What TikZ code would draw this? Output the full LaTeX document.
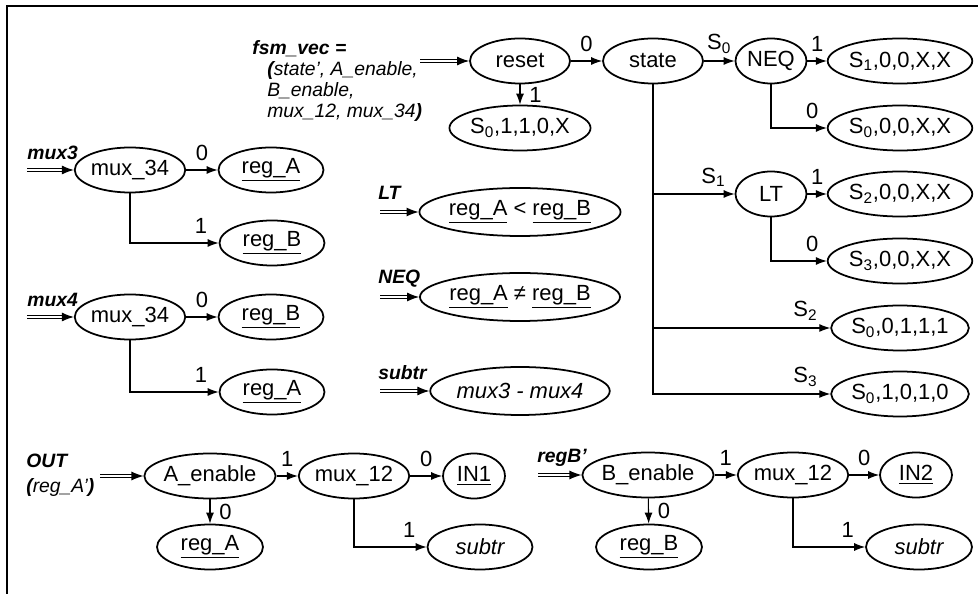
\documentclass[tikz,border=0pt]{standalone}
\usepackage{fontspec}
\setmainfont{Liberation Sans}
\usetikzlibrary{shapes.geometric, arrows.meta, positioning}
\newcommand{\Sx}[1]{S\textsubscript{#1}}
\tikzset{every node/.append style={align=center}}
\tikzset{
  st/.style={ellipse, draw, line width=1pt, minimum height=9mm, inner sep=0pt,
    font=\fontsize{12.5}{14}\selectfont},
  big/.style={st, minimum width=35mm, minimum height=9.6mm},
  arrow/.style={-{Latex[length=2.2mm,width=1.6mm]}, line width=0.6pt},
  dbl/.style={double, double distance=1.4pt, line width=0.6pt, -{Latex[length=2.4mm,width=1.8mm]}},
  sig/.style={font=\fontsize{11}{12}\selectfont\bfseries\itshape, inner sep=0pt, align=left},
  lbl/.style={font=\fontsize{12.5}{14}\selectfont, inner sep=3pt}
}
\begin{document}
\begin{tikzpicture}[x=0.02cm, y=-0.02cm]
  \useasboundingbox (0,0) rectangle (978,594);
  \draw[line width=1.3pt] (7,594) -- (7,6) -- (978,6);

  % fsm_vec tree
  \node[sig, anchor=north west] (fsmvec) at (252,40) {fsm\_vec =\\
    \hspace*{3mm}(\textmd{state’, A\_enable,}\\
    \hspace*{3mm}\textmd{B\_enable,}\\
    \hspace*{3mm}\textmd{mux\_12, mux\_34})};
  \coordinate (fsmin) at (420,61);
  \node[st, minimum width=20mm] (reset) at (520,61) {reset};
  \node[st, minimum width=20mm] (state) at (653,61) {state};
  \node[st, minimum width=14.2mm] (neq) at (771,61) {NEQ};
  \node[st, minimum width=26.6mm] (s1a) at (900,61) {\Sx{1},0,0,X,X};
  \node[st, minimum width=26.6mm] (s0a) at (900,128) {\Sx{0},0,0,X,X};
  \node[st, minimum width=26.6mm] (s0r) at (520,128) {\Sx{0},1,1,0,X};
  \node[st, minimum width=14.2mm] (lt) at (771,194) {LT};
  \node[st, minimum width=26.6mm] (s2a) at (900,194) {\Sx{2},0,0,X,X};
  \node[st, minimum width=26.6mm] (s3a) at (900,261) {\Sx{3},0,0,X,X};
  \node[st, minimum width=26.6mm] (s0b) at (900,328) {\Sx{0},0,1,1,1};
  \node[st, minimum width=26.6mm] (s0c) at (900,394) {\Sx{0},1,0,1,0};

  \draw[dbl] (fsmin) -- (reset);
  \draw[arrow] (reset) -- node[lbl, above=2pt]{0} (state);
  \draw[arrow] (reset) -- node[lbl, right=2pt]{1} (s0r);
  \draw[arrow] (state) -- node[lbl, above=1pt]{\Sx{0}} (neq);
  \draw[arrow] (neq) -- node[lbl, above=2pt]{1} (s1a);
  \draw[arrow] (neq.south) |- node[lbl, above=2pt, pos=0.87]{0} (s0a.west);
  \draw[arrow] (state.south) |- node[lbl, above=1pt, pos=0.87]{\Sx{1}} (lt.west);
  \draw[arrow] (lt) -- node[lbl, above=2pt]{1} (s2a);
  \draw[arrow] (lt.south) |- node[lbl, above=2pt, pos=0.87]{0} (s3a.west);
  \draw[arrow] (state.south) |- node[lbl, above=1pt, pos=0.93]{\Sx{2}} (s0b.west);
  \draw[arrow] (state.south) |- node[lbl, above=1pt, pos=0.93]{\Sx{3}} (s0c.west);

  % mux3 / mux4
  \node[sig, anchor=west] (mux3) at (27,153) {mux3};
  \coordinate (mux3in) at (27,170);
  \node[st, minimum width=20.8mm] (m34a) at (130,170) {mux\_34};
  \node[st, minimum width=21mm] (rega1) at (271,170) {\underline{reg\_A}};
  \node[st, minimum width=21mm] (regb1) at (272,243) {\underline{reg\_B}};
  \draw[dbl] (mux3in) -- (m34a);
  \draw[arrow] (m34a) -- node[lbl, above=2pt]{0} (rega1);
  \draw[arrow] (m34a.south) |- node[lbl, above=2pt, pos=0.9]{1} (regb1.west);

  \node[sig, anchor=west] (mux4) at (27,300) {mux4};
  \coordinate (mux4in) at (27,317);
  \node[st, minimum width=20.8mm] (m34b) at (130,317) {mux\_34};
  \node[st, minimum width=21mm] (regb2) at (271,317) {\underline{reg\_B}};
  \node[st, minimum width=21mm] (rega2) at (272,392) {\underline{reg\_A}};
  \draw[dbl] (mux4in) -- (m34b);
  \draw[arrow] (m34b) -- node[lbl, above=2pt]{0} (regb2);
  \draw[arrow] (m34b.south) |- node[lbl, above=2pt, pos=0.9]{1} (rega2.west);

  % LT / NEQ / subtr
  \node[sig, anchor=west] (ltsig) at (378,193) {LT};
  \node[sig, anchor=west] (neqsig) at (378,279) {NEQ};
  \node[sig, anchor=west] (subsig) at (378,373) {subtr};
  \coordinate (ltin) at (380,212);
  \coordinate (neqin) at (380,297);
  \coordinate (subin) at (380,391);
  \node[big] (ltexp) at (520,212) {\underline{reg\_A} < \underline{reg\_B}};
  \node[big] (neqexp) at (520,297) {\underline{reg\_A} ≠ \underline{reg\_B}};
  \node[big] (subexp) at (520,391) {\itshape mux3 - mux4};
  \draw[dbl] (ltin) -- (ltexp);
  \draw[dbl] (neqin) -- (neqexp);
  \draw[dbl] (subin) -- (subexp);

  % OUT
  \node[sig, anchor=west, font=\fontsize{11}{14}\selectfont\bfseries\itshape] (outsig) at (26,475) {OUT\\(\textmd{reg\_A’})};
  \coordinate (outin) at (100,476);
  \node[st, minimum width=23.6mm] (aen) at (210,476) {A\_enable};
  \node[st, minimum width=21mm] (mux12a) at (354,476) {mux\_12};
  \node[st, minimum width=12.4mm] (in1) at (474,476) {\underline{IN1}};
  \node[st, minimum width=21.2mm] (rega3) at (210,547) {\underline{reg\_A}};
  \node[st, minimum width=21mm] (suba) at (480,547) {\itshape subtr};
  \draw[dbl] (outin) -- (aen);
  \draw[arrow] (aen) -- node[lbl, above=2pt]{1} (mux12a);
  \draw[arrow] (mux12a) -- node[lbl, above=2pt]{0} (in1);
  \draw[arrow] (aen) -- node[lbl, right=2pt]{0} (rega3);
  \draw[arrow] (mux12a.south) |- node[lbl, above=2pt, pos=0.88]{1} (suba.west);

  % regB'
  \node[sig, anchor=west] (regbsig) at (537,458) {regB’};
  \coordinate (regbin) at (538,475);
  \node[st, minimum width=23.4mm] (ben) at (648,475) {B\_enable};
  \node[st, minimum width=21.4mm] (mux12b) at (793,475) {mux\_12};
  \node[st, minimum width=14.4mm] (in2) at (916,475) {\underline{IN2}};
  \node[st, minimum width=21.2mm] (regb3) at (649,547) {\underline{reg\_B}};
  \node[st, minimum width=21.2mm] (subb) at (919,547) {\itshape subtr};
  \draw[dbl] (regbin) -- (ben);
  \draw[arrow] (ben) -- node[lbl, above=2pt]{1} (mux12b);
  \draw[arrow] (mux12b) -- node[lbl, above=2pt]{0} (in2);
  \draw[arrow] (ben) -- node[lbl, right=2pt]{0} (regb3);
  \draw[arrow] (mux12b.south) |- node[lbl, above=2pt, pos=0.88]{1} (subb.west);
\end{tikzpicture}
\end{document}
